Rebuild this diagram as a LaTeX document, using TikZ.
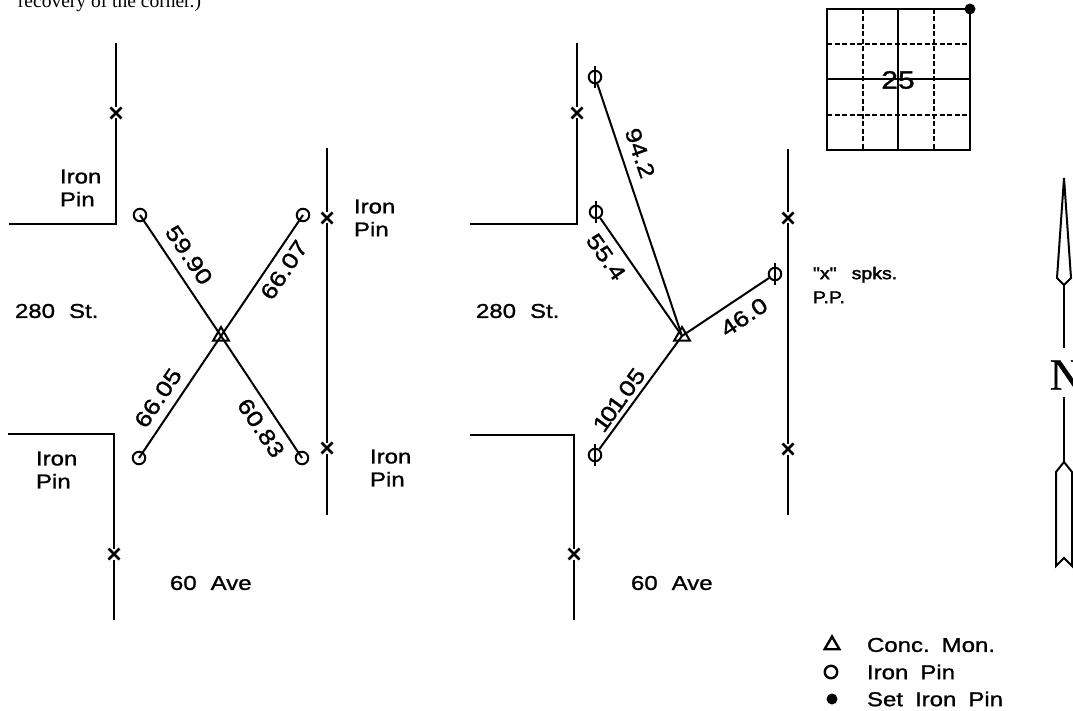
\documentclass[tikz,border=0pt]{standalone}
\usepackage{fontspec}
\setmainfont[FakeStretch=1.2,FakeBold=1.2]{Liberation Sans}
\newfontfamily\notefont{Liberation Serif}
\newfontfamily\spkfont[FakeStretch=1.15,FakeBold=2]{Liberation Sans}
\newfontfamily\northfont[FakeBold=1]{Liberation Serif}
\usetikzlibrary{shapes.geometric,shapes.misc}
\begin{document}
\begin{tikzpicture}[x=1pt,y=-1pt,line width=2pt,
	pin/.style={draw,circle,minimum size=12.5pt,inner sep=0pt},
	mon/.style={draw,regular polygon,regular polygon sides=3,minimum size=18pt,inner sep=0pt},
	xmark/.style={draw,cross out,line width=2.6pt,minimum size=5pt,inner sep=0pt,outer sep=3pt},
	dist/.style={font=\fontsize{22}{22}\selectfont,inner sep=0pt},
	lbl/.style={font=\fontsize{20}{23}\selectfont,inner sep=0pt,align=left,anchor=west},
	smalllbl/.style={font=\spkfont\fontsize{17}{24}\selectfont,inner sep=0pt,align=left,anchor=west},
	sec/.style={line width=2pt},
	secdash/.style={line width=1.3pt,dash pattern=on 5pt off 2.5pt}]
	\useasboundingbox (0,0) rectangle (1073,711);
	\node[font=\notefont\fontsize{19.5}{20}\selectfont,inner sep=0pt,anchor=base west] (NOTE)at(17,8) {recovery of the corner.)};
	
	\coordinate (A1)at(116,43);
	\node[xmark] (X1)at(116,113) {};
	\coordinate (A2)at(116,224);
	\coordinate (A3)at(9,224);
	\coordinate (B1)at(327,148);
	\node[xmark] (X2)at(327,218) {};
	\node[xmark] (X3)at(327,448) {};
	\coordinate (B2)at(327,515);
	\coordinate (C1)at(8,434);
	\coordinate (C2)at(114,434);
	\node[xmark] (X4)at(114,554) {};
	\coordinate (C3)at(114,620);
	\draw (A1) -- (X1);
	\draw (X1) -- (A2) -- (A3);
	\draw (B1) -- (X2);
	\draw (X2) -- (X3);
	\draw (X3) -- (B2);
	\draw (C1) -- (C2) -- (X4);
	\draw (X4) -- (C3);
	
	\node[mon] (M1)at(221,336) {};
	\node[pin] (P1)at(140,215) {};
	\node[pin] (P2)at(303,215) {};
	\node[pin] (P3)at(139,458) {};
	\node[pin] (P4)at(302,458) {};
	\draw (M1.center) -- (P1.center);
	\draw (M1.center) -- (P2.center);
	\draw (M1.center) -- (P3.center);
	\draw (M1.center) -- (P4.center);
	\node[dist,rotate=-56] (D1)at(189,255) {59.90};
	\node[dist,rotate=56] (D2)at(284,270) {66.07};
	\node[dist,rotate=56] (D3)at(158,398) {66.05};
	\node[dist,rotate=-56] (D4)at(261,428) {60.83};
	
	\node[lbl] (T1)at(59,188) {Iron\\Pin};
	\node[lbl] (T2)at(353,218) {Iron\\Pin};
	\node[lbl] (T3)at(35,470) {Iron\\Pin};
	\node[lbl] (T4)at(369,468) {Iron\\Pin};
	\node[lbl] (T5)at(14,311) {280\hspace{14pt}St.};
	\node[lbl] (T6)at(169,583) {60\hspace{14pt}Ave};
	
	\coordinate (E1)at(577,43);
	\node[xmark] (X5)at(577,113) {};
	\coordinate (E2)at(577,224);
	\coordinate (E3)at(470,224);
	\coordinate (F1)at(788,149);
	\node[xmark] (X6)at(788,218) {};
	\node[xmark] (X7)at(788,449) {};
	\coordinate (F2)at(788,515);
	\coordinate (G1)at(470,435);
	\coordinate (G2)at(574,435);
	\node[xmark] (X8)at(574,554) {};
	\coordinate (G3)at(574,620);
	\draw (E1) -- (X5);
	\draw (X5) -- (E2) -- (E3);
	\draw (F1) -- (X6);
	\draw (X6) -- (X7);
	\draw (X7) -- (F2);
	\draw (G1) -- (G2) -- (X8);
	\draw (X8) -- (G3);
	
	\node[mon] (M2)at(682,336) {};
	\node[pin] (P5)at(595,77) {};
	\node[pin] (P6)at(596,212) {};
	\node[pin] (P7)at(775,274) {};
	\node[pin] (P8)at(595,455) {};
	\foreach \n in {P5,P6,P7,P8}
		\draw ([yshift=11pt]\n.center) -- ([yshift=-11pt]\n.center);
	\draw (M2.center) -- (P5);
	\draw (M2.center) -- (P6);
	\draw (M2.center) -- (P7);
	\draw (M2.center) -- (P8);
	\node[dist,rotate=-71] (D5)at(640,153) {94.2};
	\node[dist,rotate=-55] (D6)at(606,257) {55.4};
	\node[dist,rotate=34] (D7)at(744,317) {46.0};
	\node[dist,rotate=54] (D8)at(619,400) {1\kern-3pt 0\kern-2pt 1\kern-3pt .05};
	
	\node[lbl] (T7)at(475,311) {280\hspace{14pt}St.};
	\node[lbl] (T8)at(630,583) {60\hspace{14pt}Ave};
	\node[smalllbl] (T9)at(812,285) {"x"\hspace{15pt}spks.\\P.P.};
	
	\coordinate (S1)at(827,9);
	\coordinate (S2)at(970,9);
	\coordinate (S3)at(970,150);
	\coordinate (S4)at(827,150);
	\coordinate (S5)at(898,9);
	\coordinate (S6)at(898,150);
	\coordinate (S7)at(827,79);
	\coordinate (S8)at(970,79);
	\coordinate (S9)at(863,9);
	\coordinate (S10)at(863,150);
	\coordinate (S11)at(934,9);
	\coordinate (S12)at(934,150);
	\coordinate (S13)at(827,44);
	\coordinate (S14)at(970,44);
	\coordinate (S15)at(827,115);
	\coordinate (S16)at(970,115);
	\draw[sec] (S1) -- (S2) -- (S3) -- (S4) -- cycle;
	\draw[sec] (S5) -- (S6);
	\draw[sec] (S7) -- (S8);
	\draw[secdash] (S9) -- (S10);
	\draw[secdash] (S11) -- (S12);
	\draw[secdash] (S13) -- (S14);
	\draw[secdash] (S15) -- (S16);
	\node[circle,fill=black,minimum size=11pt,inner sep=0pt] (SET)at(970,9) {};
	\node[font=\fontsize{25}{25}\selectfont,inner sep=0pt] (SEC)at(898,80) {25};
	
	\coordinate (N1)at(1064,178);
	\coordinate (N2)at(1071,278);
	\coordinate (N3)at(1064,285);
	\coordinate (N4)at(1057,278);
	\coordinate (N5)at(1064,348);
	\draw (N1) -- (N2) -- (N3) -- (N4) -- cycle;
	\draw (N3) -- (N5);
	\node[font=\northfont\fontsize{45}{45}\selectfont,inner sep=0pt] (NORTH)at(1066,375) {N};
	\coordinate (N6)at(1064,397);
	\coordinate (N7)at(1064,462);
	\coordinate (N8)at(1072,472);
	\coordinate (N9)at(1072,566);
	\coordinate (N10)at(1064,558);
	\coordinate (N11)at(1056,566);
	\coordinate (N12)at(1056,472);
	\draw (N6) -- (N7);
	\draw (N7) -- (N8) -- (N9) -- (N10) -- (N11) -- (N12) -- cycle;
	
	\node[mon,minimum size=17pt,line width=2.4pt] (L1)at(832,645) {};
	\node[pin,line width=2.4pt] (L2)at(831,672) {};
	\node[circle,fill=black,minimum size=11pt,inner sep=0pt] (L3)at(832,699) {};
	\node[lbl] (K1)at(866,645) {Conc.\hspace{12pt}Mon.};
	\node[lbl] (K2)at(866,672) {Iron\hspace{12pt}Pin};
	\node[lbl] (K3)at(866,699) {Set\hspace{12pt}Iron\hspace{12pt}Pin};
\end{tikzpicture}
\end{document}
